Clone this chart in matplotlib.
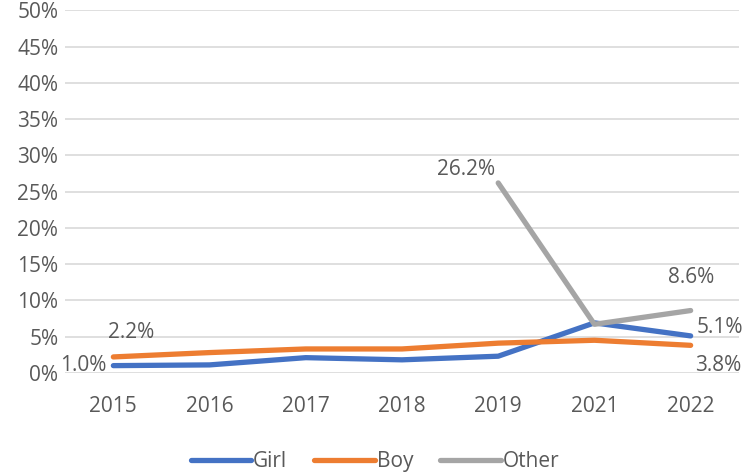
import matplotlib.pyplot as plt
import numpy as np

years = ["2015", "2016", "2017", "2018", "2019", "2021", "2022"]
girl = [1.0, 1.1, 2.1, 1.8, 2.3, 6.9, 5.1]
boy = [2.2, 2.8, 3.3, 3.3, 4.1, 4.5, 3.8]
other = [np.nan, np.nan, np.nan, np.nan, 26.2, 6.7, 8.6]

TXT = "#595959"
plt.rcParams['font.family'] = ['Open Sans', 'DejaVu Sans']

fig = plt.figure(figsize=(7.5, 4.72), dpi=100)
ax = fig.add_axes([0.087, 0.21, 0.898, 0.768])
x = np.arange(len(years))

ax.plot(x, girl, color="#4472C4", lw=3.8, solid_capstyle="round", label="Girl", zorder=3)
ax.plot(x, boy, color="#ED7D31", lw=3.8, solid_capstyle="round", label="Boy", zorder=3)
ax.plot(x, other, color="#A5A5A5", lw=3.8, solid_capstyle="round", label="Other", zorder=3)

ax.set_xlim(-0.5, len(years) - 0.5)
ax.set_ylim(0, 50)
ax.set_yticks(np.arange(0, 51, 5))
ax.set_yticklabels([f"{v}%" for v in range(0, 51, 5)])
ax.set_xticks(x)
ax.set_xticklabels(years)
ax.grid(axis='y', color="#D9D9D9", lw=1.2)
ax.set_axisbelow(True)
for s in ax.spines.values():
    s.set_visible(False)
fs = 15
ax.tick_params(length=0, colors=TXT, labelsize=fs)
ax.tick_params(axis='x', pad=17)
ax.tick_params(axis='y', pad=5)

ax.annotate(f"{girl[0]:.1f}%", (x[0], girl[0]), xytext=(-5, 0), textcoords="offset points",
            ha="right", va="center", color=TXT, fontsize=fs)
ax.annotate(f"{boy[0]:.1f}%", (x[0], boy[0]), xytext=(-4, 10), textcoords="offset points",
            ha="left", va="bottom", color=TXT, fontsize=fs)
ax.annotate(f"{other[4]:.1f}%", (x[4], other[4]), xytext=(-2, 2), textcoords="offset points",
            ha="right", va="bottom", color=TXT, fontsize=fs)
ax.annotate(f"{other[6]:.1f}%", (x[6], other[6]), xytext=(0, 16), textcoords="offset points",
            ha="center", va="bottom", color=TXT, fontsize=fs)
ax.annotate(f"{girl[6]:.1f}%", (x[6], girl[6]), xytext=(4, 6), textcoords="offset points",
            ha="left", va="center", color=TXT, fontsize=fs)
ax.annotate(f"{boy[6]:.1f}%", (x[6], boy[6]), xytext=(3, -7), textcoords="offset points",
            ha="left", va="top", color=TXT, fontsize=fs)

leg = fig.legend(loc="lower center", bbox_to_anchor=(0.5, -0.04), ncol=3, frameon=False,
                 fontsize=fs, handlelength=2.9, handletextpad=0.1, columnspacing=1.3)
for t in leg.get_texts():
    t.set_color(TXT)

fig.savefig("out.png", dpi=100)
